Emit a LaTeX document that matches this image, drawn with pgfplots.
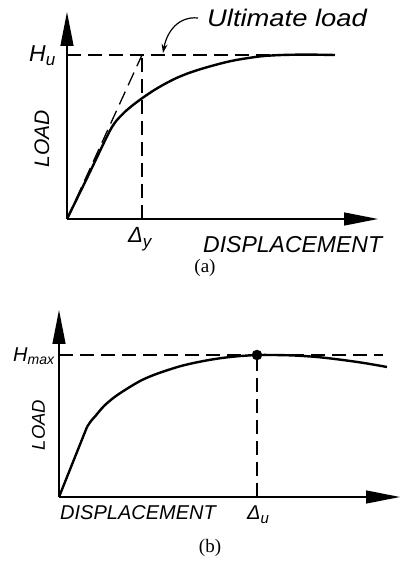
\documentclass[border=0pt]{standalone}
\usepackage{fontspec}
\setmainfont{Liberation Serif}
\newfontfamily\labfont{Liberation Sans}
\usepackage{graphicx}
\usepackage{pgfplots}
\pgfplotsset{compat=1.18}
\usetikzlibrary{arrows.meta}

% hand-lettered style labels
\newcommand\lab[2]{{\labfont\itshape\fontsize{#1}{#1}\selectfont #2}}

\pgfplotsset{sketch/.style={
  x=1pt, y=1pt, axis lines=left, clip=false,
  xtick=\empty, ytick=\empty,
  axis line style={line width=1.3pt, -{Triangle[length=34pt,width=13pt]}},
}}
\tikzset{
  curve/.style={black, line width=2.4pt, line join=round},
  guide/.style={black, line width=1.3pt, dash pattern=on 14pt off 7pt},
}

\begin{document}
\begin{tikzpicture}[x=1pt,y=1pt]
\path[use as bounding box] (0,0) rectangle (401,563);

% ---- (a) ----
\begin{axis}[sketch, at={(67,344)}, anchor=origin,
  xmin=0, xmax=311, ymin=0, ymax=207]
\addplot[guide] coordinates {(0,164) (268,164)};
\addplot[guide] coordinates {(75,0) (75,164)};
\addplot[guide] coordinates {(0,0) (75,164)};
\addplot[curve, smooth] coordinates {
  (0,0) (22,45) (38,78.5) (45,92) (50,99) (55,104.3) (58,107.3) (66,114)
  (75,120.7) (85,127.5) (95,133.5) (108,140.3) (121,145.7) (135,150.3)
  (148,154) (161,157.3) (175,160) (195,162.8) (215,164) (240,164.4) (268,164)};
\draw[line width=1.2pt, -{Stealth[length=9pt,width=6pt]}]
  (axis cs:131,201) .. controls (axis cs:112,203) and (axis cs:100,188) .. (axis cs:96,166);
\node[anchor=base west, inner sep=0] at (axis cs:140,192)
  {\scalebox{1.14}[1]{\lab{24}{Ultimate load}}};
\node[anchor=base west, inner sep=0] at (axis cs:-38,157)
  {\lab{23}{H\raisebox{-0.15em}{\fontsize{17}{17}\selectfont u}}};
\node[anchor=base west, inner sep=0] at (axis cs:61,-24)
  {\lab{22}{Δ\raisebox{-0.2em}{\fontsize{17}{17}\selectfont y}}};
\node[anchor=base west, inner sep=0] at (axis cs:136,-34) {\lab{23}{DISPLACEMENT}};
\node[rotate=90, inner sep=0] at (axis cs:-25,80) {\lab{21}{LOAD}};
\end{axis}
\node at (205,295) {\fontsize{19}{19}\selectfont (a)};

% ---- (b) ----
\begin{axis}[sketch, at={(59,66)}, anchor=origin,
  xmin=0, xmax=341, ymin=0, ymax=187]
\addplot[guide] coordinates {(0,142) (324,142)};
\addplot[guide] coordinates {(198,0) (198,142)};
\addplot[curve] coordinates {(0,0) (28,70)};
\addplot[curve, smooth] coordinates {
  (28,70) (32,76) (36,80.5) (45,91) (56,100.3) (70,109.5) (83,117)
  (96,122.5) (109,127) (122,131) (136,134.3) (150,137) (163,139)
  (176,140.5) (189,141.5) (198,142) (215,142) (235,141.5) (258,140)
  (280,137.5) (305,134) (328,130)};
\addplot[only marks, mark=*, mark size=5pt, black] coordinates {(198,142)};
\node[anchor=base west, inner sep=0] at (axis cs:-46,135)
  {\lab{20}{H\raisebox{-0.15em}{\fontsize{14}{14}\selectfont max}}};
\node[anchor=base west, inner sep=0] at (axis cs:188,-23)
  {\lab{20}{Δ\raisebox{-0.2em}{\fontsize{15}{15}\selectfont u}}};
\node[anchor=base west, inner sep=0] at (axis cs:1,-23) {\lab{20}{DISPLACEMENT}};
\node[rotate=90, inner sep=0] at (axis cs:-20.5,72) {\lab{18.5}{LOAD}};
\end{axis}
\node at (210,15) {\fontsize{19}{19}\selectfont (b)};
\end{tikzpicture}
\end{document}
